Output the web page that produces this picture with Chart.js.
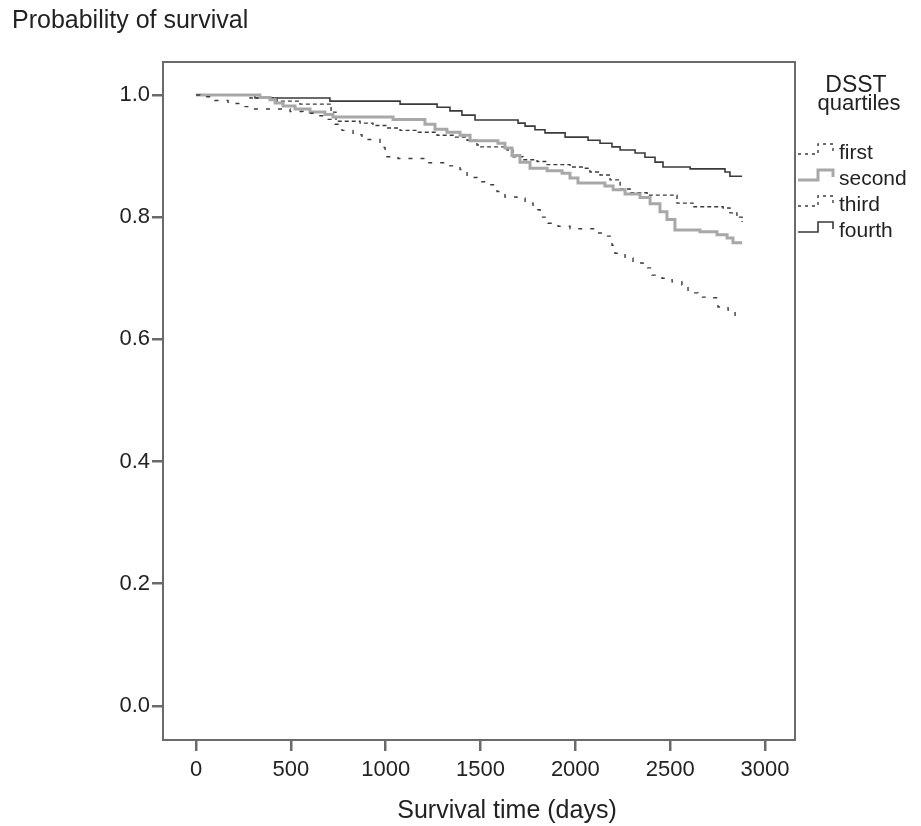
<!DOCTYPE html>
<html>
<head>
<meta charset="utf-8">
<script src="https://cdn.jsdelivr.net/npm/chart.js@4/dist/chart.umd.min.js"></script>
<style>
  html, body { margin: 0; padding: 0; background: #fff; }
  #wrap { position: relative; width: 921px; height: 826px; }
</style>
</head>
<body>
<div id="wrap"><canvas id="c"></canvas></div>
<script>
// ---- Data ----
const seriesNames = ["first", "second", "third", "fourth"];

const daysFirst = [0, 21, 100, 169, 232, 285, 496, 564, 627, 680, 733, 770, 828, 875, 970, 997, 1065, 1207, 1339, 1392, 1429, 1481, 1534, 1587, 1629, 1692, 1735, 1777, 1814, 1856, 1909, 1972, 2104, 2156, 2193, 2209, 2262, 2304, 2357, 2404, 2457, 2510, 2562, 2594, 2647, 2721, 2752, 2805, 2842, 2868];
const survFirst = [1.000, 0.997, 0.991, 0.986, 0.981, 0.977, 0.973, 0.970, 0.966, 0.960, 0.952, 0.942, 0.935, 0.927, 0.914, 0.899, 0.896, 0.889, 0.884, 0.878, 0.865, 0.858, 0.853, 0.842, 0.833, 0.831, 0.823, 0.812, 0.800, 0.790, 0.785, 0.781, 0.774, 0.769, 0.754, 0.741, 0.733, 0.725, 0.717, 0.705, 0.700, 0.694, 0.689, 0.676, 0.669, 0.668, 0.653, 0.648, 0.635, 0.635];

const daysSecond = [0, 337, 390, 417, 459, 522, 601, 680, 722, 1039, 1207, 1260, 1323, 1392, 1445, 1592, 1629, 1666, 1708, 1761, 1851, 1930, 1972, 2014, 2156, 2199, 2262, 2341, 2394, 2446, 2483, 2525, 2657, 2747, 2800, 2831, 2879];
const survSecond = [1.000, 0.996, 0.992, 0.987, 0.982, 0.977, 0.972, 0.968, 0.964, 0.960, 0.952, 0.944, 0.939, 0.934, 0.925, 0.921, 0.913, 0.901, 0.890, 0.880, 0.876, 0.872, 0.864, 0.856, 0.851, 0.845, 0.838, 0.832, 0.822, 0.809, 0.796, 0.779, 0.776, 0.771, 0.766, 0.758, 0.758];

const daysThird = [0, 285, 427, 548, 712, 738, 865, 933, 1007, 1076, 1165, 1271, 1355, 1429, 1481, 1497, 1640, 1671, 1724, 1798, 1851, 1972, 2040, 2077, 2130, 2183, 2236, 2288, 2378, 2536, 2620, 2779, 2815, 2852, 2879];
const survThird = [1.000, 0.995, 0.990, 0.985, 0.972, 0.957, 0.954, 0.950, 0.946, 0.942, 0.939, 0.934, 0.931, 0.926, 0.918, 0.915, 0.910, 0.899, 0.894, 0.891, 0.886, 0.882, 0.880, 0.874, 0.869, 0.861, 0.846, 0.840, 0.836, 0.823, 0.817, 0.815, 0.807, 0.800, 0.792];

const daysFourth = [0, 311, 706, 1076, 1271, 1339, 1402, 1471, 1698, 1735, 1787, 1840, 1946, 2067, 2130, 2193, 2236, 2315, 2367, 2420, 2462, 2605, 2789, 2815, 2879];
const survFourth = [1.000, 0.995, 0.990, 0.985, 0.980, 0.974, 0.967, 0.959, 0.954, 0.949, 0.943, 0.938, 0.931, 0.926, 0.921, 0.915, 0.910, 0.905, 0.898, 0.890, 0.882, 0.879, 0.874, 0.867, 0.867];

const xTicks = [0, 500, 1000, 1500, 2000, 2500, 3000];
const xTickLabels = ["0", "500", "1000", "1500", "2000", "2500", "3000"];
const yTicks = [0.0, 0.2, 0.4, 0.6, 0.8, 1.0];
const yTickLabels = ["0.0", "0.2", "0.4", "0.6", "0.8", "1.0"];

const yTitle = "Probability of survival";
const xTitle = "Survival time (days)";
const legendTitle = ["DSST", "quartiles"];

// ---- Styles ----
const styles = [
  { color: "#3c3c3c", width: 1.4, dash: [4, 8] },   // first
  { color: "#a8a8a8", width: 3.0, dash: [] },       // second
  { color: "#3c3c3c", width: 1.4, dash: [4, 3] },   // third
  { color: "#3a3a3a", width: 1.6, dash: [] }        // fourth
];
const daysAll = [daysFirst, daysSecond, daysThird, daysFourth];
const survAll = [survFirst, survSecond, survThird, survFourth];

const FONT = "'Liberation Sans', Arial, Helvetica, sans-serif";

const datasets = seriesNames.map((name, i) => ({
  label: name,
  data: daysAll[i].map((d, k) => ({ x: d, y: survAll[i][k] })),
  stepped: true,
  borderColor: styles[i].color,
  borderWidth: styles[i].width,
  borderDash: styles[i].dash,
  pointRadius: 0,
  fill: false,
  tension: 0
}));

const decor = {
  id: "decor",
  afterDraw(chart) {
    const ctx = chart.ctx;
    const a = chart.chartArea;
    ctx.save();
    // frame
    ctx.strokeStyle = "#6a6a6a";
    ctx.lineWidth = 2;
    ctx.setLineDash([]);
    ctx.strokeRect(a.left, a.top, a.right - a.left, a.bottom - a.top);

    ctx.fillStyle = "#222";
    ctx.textBaseline = "alphabetic";
    // y title (top-left)
    ctx.font = "25px " + FONT;
    ctx.textAlign = "left";
    ctx.fillText(yTitle, 12, 28);
    // x title
    ctx.textAlign = "center";
    ctx.fillText(xTitle, 507, 818);

    // legend title
    ctx.font = "23px " + FONT;
    ctx.fillText(legendTitle[0], 856, 92);
    ctx.font = "22px " + FONT;
    ctx.fillText(legendTitle[1], 859, 110);

    // legend entries
    const baselines = [159, 185, 211, 237];
    seriesNames.forEach((name, i) => {
      const b = baselines[i];
      const s = styles[i];
      ctx.beginPath();
      ctx.strokeStyle = s.color;
      ctx.lineWidth = s.width;
      ctx.setLineDash(s.dash.length ? [3, 4] : []);
      ctx.moveTo(a.right + 3, b - 5);
      ctx.lineTo(818, b - 5);
      ctx.lineTo(818, b - 15);
      ctx.lineTo(833, b - 15);
      ctx.lineTo(833, b - 8);
      ctx.stroke();
      ctx.setLineDash([]);
      ctx.fillStyle = "#222";
      ctx.font = "21px " + FONT;
      ctx.textAlign = "left";
      ctx.fillText(name, 839, b);
    });
    ctx.restore();
  }
};

new Chart(document.getElementById("c"), {
  type: "line",
  data: { datasets },
  plugins: [decor],
  options: {
    responsive: true,
    maintainAspectRatio: false,
    animation: false,
    events: [],
    layout: { padding: { left: 0, top: 62, right: 126, bottom: 0 } },
    plugins: { legend: { display: false }, tooltip: { enabled: false }, title: { display: false } },
    scales: {
      x: {
        type: "linear",
        min: -174,
        max: 3158,
        afterBuildTicks: s => { s.ticks = xTicks.map(v => ({ value: v })); },
        afterFit: s => { s.height = 86; },
        grid: { drawOnChartArea: false, drawTicks: true, tickLength: 11, color: "#6a6a6a", lineWidth: 2.5 },
        border: { display: false },
        ticks: { color: "#222", font: { size: 22, family: FONT }, padding: 6, maxRotation: 0, autoSkip: false,
                 callback: (v) => xTickLabels[xTicks.indexOf(v)] }
      },
      y: {
        type: "linear",
        min: -0.056,
        max: 1.054,
        afterBuildTicks: s => { s.ticks = yTicks.map(v => ({ value: v })); },
        afterFit: s => { s.width = 163; },
        grid: { drawOnChartArea: false, drawTicks: true, tickLength: 11, color: "#6a6a6a", lineWidth: 2.5 },
        border: { display: false },
        ticks: { color: "#222", font: { size: 22, family: FONT }, padding: 2, autoSkip: false,
                 callback: (v) => yTickLabels[yTicks.indexOf(v)] }
      }
    }
  }
});
</script>
</body>
</html>
